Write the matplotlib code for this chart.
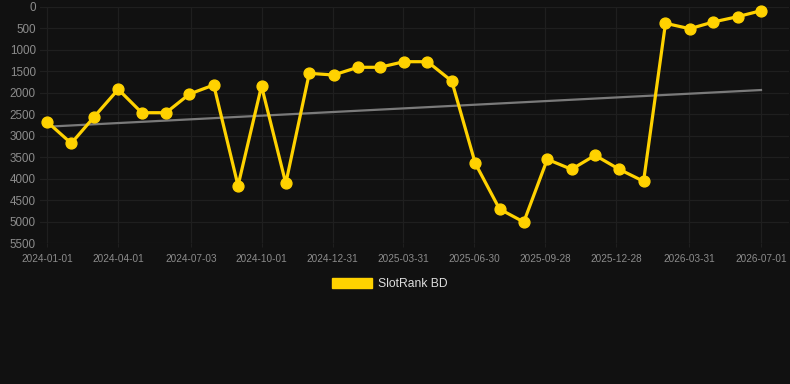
import matplotlib
matplotlib.use("Agg")
import matplotlib.pyplot as plt
import matplotlib.dates as mdates
from matplotlib.patches import Patch
import numpy as np
import datetime as dt

# ---- data ----
months = [dt.date(2024 + (m // 12), m % 12 + 1, 1) for m in range(0, 31)]
ranks = [2676, 3178, 2567, 1923, 2467, 2467, 2033, 1823, 4163, 1847, 4107,
         1552, 1591, 1412, 1412, 1282, 1282, 1731, 3642, 4704, 5006, 3549,
         3782, 3456, 3782, 4060, 390, 516, 360, 237, 98]
trend_dates = [dt.date(2024, 1, 1), dt.date(2026, 7, 1)]
trend_vals = [2792, 1940]
tick_labels = ["2024-01-01", "2024-04-01", "2024-07-03", "2024-10-01", "2024-12-31",
               "2025-03-31", "2025-06-30", "2025-09-28", "2025-12-28", "2026-03-31",
               "2026-07-01"]
y_ticks = [0, 500, 1000, 1500, 2000, 2500, 3000, 3500, 4000, 4500, 5000, 5500]
series_name = "SlotRank BD"

BG = "#111111"
GRID = "#1f1f1f"
GOLD = "#FFD200"
TXT = "#8c8c8c"

plt.rcParams['font.family'] = ['Liberation Sans', 'DejaVu Sans']

fig = plt.figure(figsize=(7.9, 3.84), dpi=100, facecolor=BG)
W, H = 790, 384
ax = fig.add_axes([40 / W, 1 - 243.3 / H, (789 - 40) / W, (243.3 - 6.5) / H])
ax.set_facecolor(BG)

tick_dates = [dt.datetime.strptime(t, "%Y-%m-%d").date() for t in tick_labels]
x0 = mdates.date2num(dt.date(2024, 1, 1))
x1 = mdates.date2num(dt.date(2026, 7, 1))
ppd = (761 - 47) / (x1 - x0)
ax.set_xlim(x0 - (47 - 40) / ppd, x1 + (789 - 761) / ppd)
ax.set_ylim(5500, 0)

ax.plot(mdates.date2num(trend_dates), trend_vals, color="#7a7a7a", lw=1.6, zorder=2)
ax.plot(mdates.date2num(months), ranks, color=GOLD, lw=2.3, marker="o", ms=7.8,
        zorder=3, clip_on=False)

ax.set_xticks(mdates.date2num(tick_dates))
ax.set_xticklabels(tick_labels)
ax.set_yticks(y_ticks)
ax.set_yticklabels([str(v) for v in y_ticks])
ax.tick_params(axis='x', colors=GRID, labelcolor=TXT, labelsize=7.2, length=3, pad=5)
ax.tick_params(axis='y', colors=GRID, labelcolor=TXT, labelsize=8.4, length=0, pad=3)
ax.grid(True, color=GRID, lw=0.9)
ax.set_axisbelow(True)
for s in ax.spines.values():
    s.set_visible(False)

leg = fig.legend(handles=[Patch(facecolor=GOLD, edgecolor=GOLD, label=series_name)],
                 loc='center', bbox_to_anchor=(390 / W, 1 - 284 / H), frameon=False,
                 fontsize=8.7, handlelength=3.3, handleheight=0.9, handletextpad=0.55,
                 labelcolor="#dddddd")

fig.savefig("out.png", dpi=100, facecolor=BG)
